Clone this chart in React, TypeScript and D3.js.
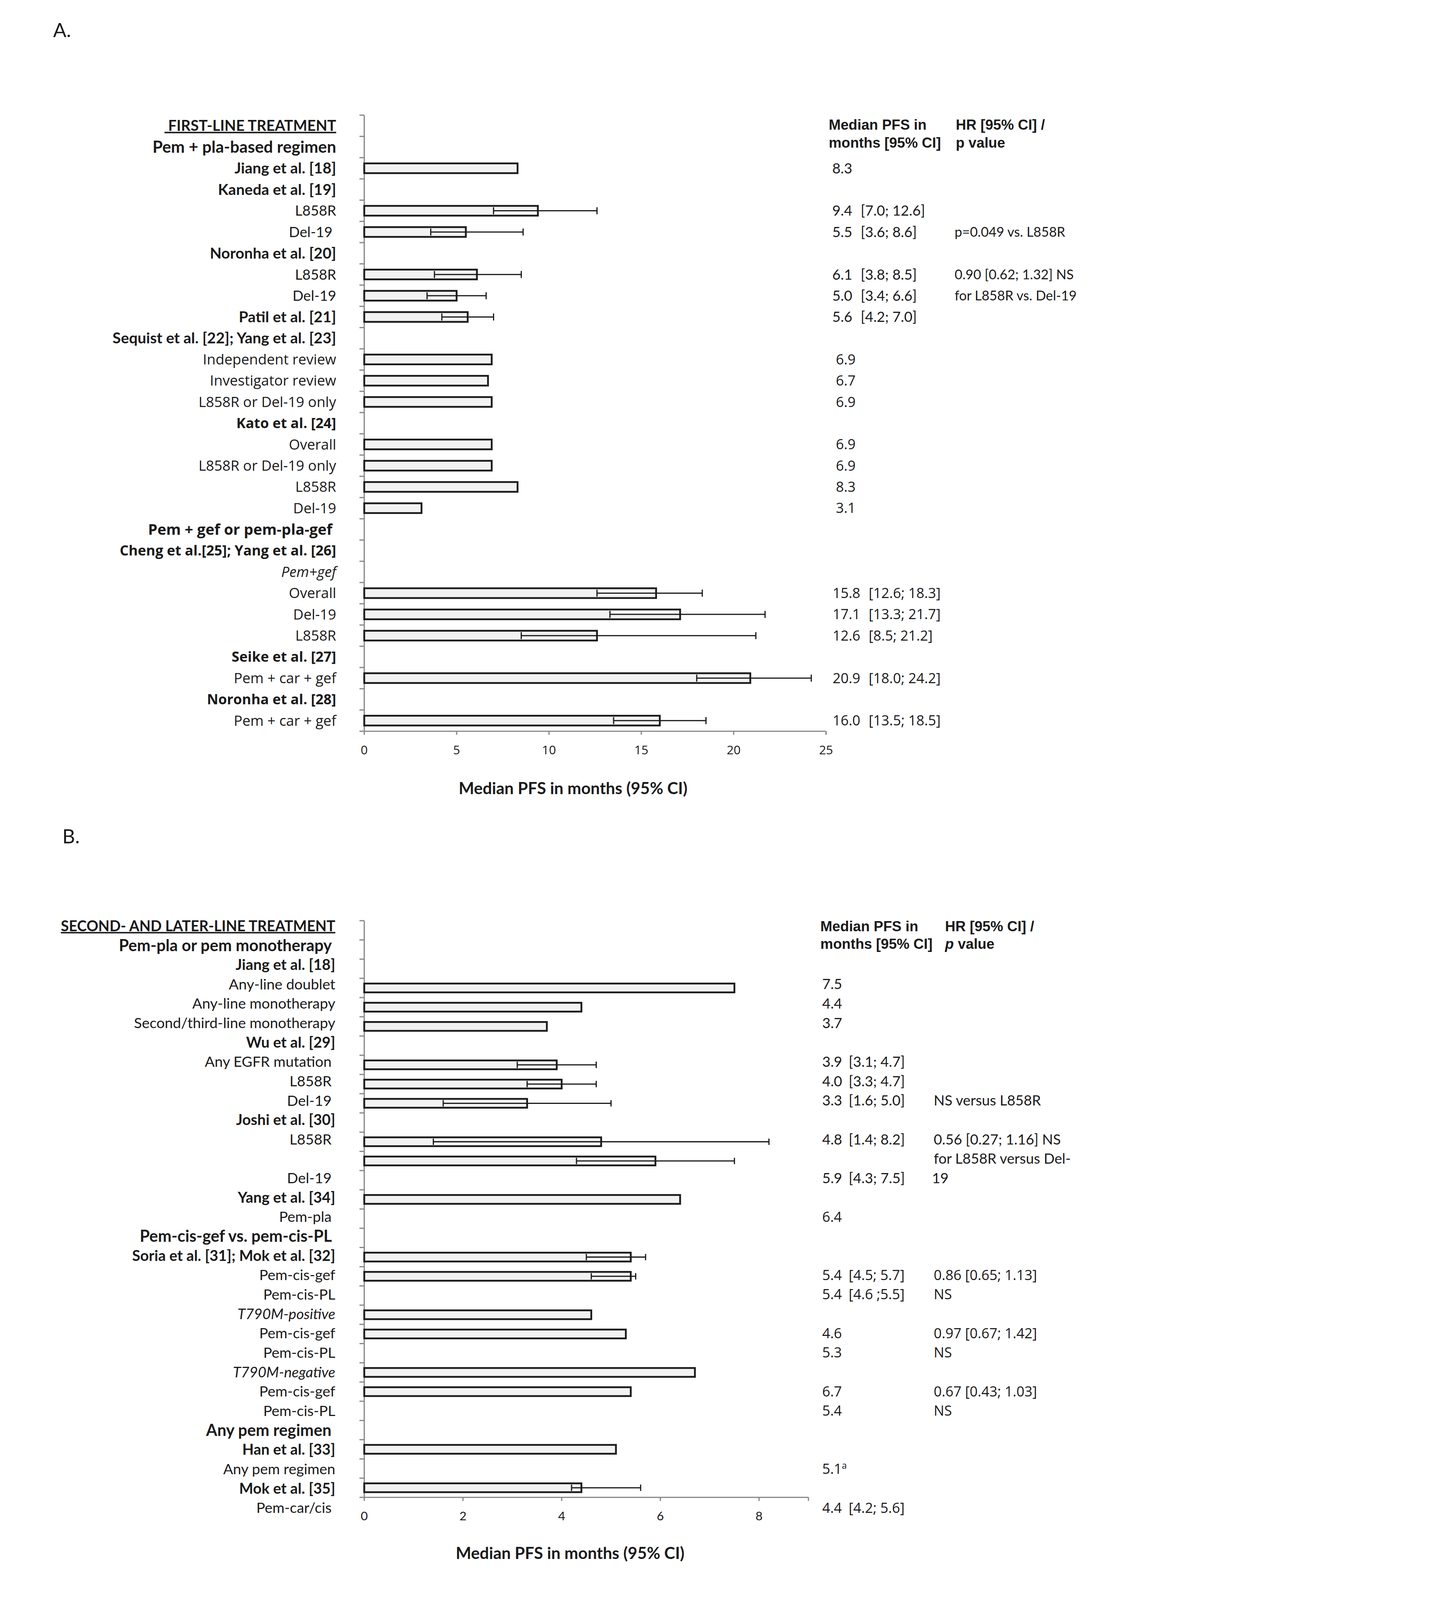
import * as d3 from 'd3';

const W = 3679;
const H = 5363;

type Kind = 'head' | 'group' | 'bold' | 'sub' | 'ital';

// ---- Panel A: first-line treatment ----
const labelsA = [
  '\u00a0FIRST-LINE TREATMENT',
  'Pem + pla-based regimen',
  'Jiang et al. [18]',
  'Kaneda et al. [19]',
  'L858R',
  'Del-19\u00a0',
  'Noronha et al. [20]',
  'L858R',
  'Del-19',
  'Patil et al. [21]',
  'Sequist et al. [22]; Yang et al. [23]',
  'Independent review',
  'Investigator review',
  'L858R or Del-19 only',
  'Kato et al. [24]',
  'Overall',
  'L858R or Del-19 only',
  'L858R',
  'Del-19',
  'Pem + gef or pem-pla-gef\u00a0',
  'Cheng et al.[25]; Yang et al. [26]',
  'Pem+gef',
  'Overall',
  'Del-19',
  'L858R',
  'Seike et al. [27]',
  'Pem + car + gef',
  'Noronha et al. [28]',
  'Pem + car + gef',
];
const kindsA: Kind[] = [
  'head', 'group', 'bold', 'bold', 'sub', 'sub', 'bold', 'sub', 'sub', 'bold',
  'bold', 'sub', 'sub', 'sub', 'bold', 'sub', 'sub', 'sub', 'sub', 'group',
  'bold', 'ital', 'sub', 'sub', 'sub', 'bold', 'sub', 'bold', 'sub',
];
const medianA = [
  null, null, 8.3, null, 9.4, 5.5, null, 6.1, 5.0, 5.6,
  null, 6.9, 6.7, 6.9, null, 6.9, 6.9, 8.3, 3.1, null,
  null, null, 15.8, 17.1, 12.6, null, 20.9, null, 16.0,
];
const loA = [
  null, null, null, null, 7.0, 3.6, null, 3.8, 3.4, 4.2,
  null, null, null, null, null, null, null, null, null, null,
  null, null, 12.6, 13.3, 8.5, null, 18.0, null, 13.5,
];
const hiA = [
  null, null, null, null, 12.6, 8.6, null, 8.5, 6.6, 7.0,
  null, null, null, null, null, null, null, null, null, null,
  null, null, 18.3, 21.7, 21.2, null, 24.2, null, 18.5,
];
const hrA: Record<number, string> = {
  5: 'p=0.049 vs. L858R',
  7: '0.90 [0.62; 1.32] NS',
  8: 'for L858R vs. Del-19',
};
const ticksA = [0, 5, 10, 15, 20, 25];

// ---- Panel B: second- and later-line treatment ----
const labelsB = [
  'SECOND- AND LATER-LINE TREATMENT',
  'Pem-pla or pem monotherapy\u00a0',
  'Jiang et al. [18]',
  'Any-line doublet',
  'Any-line monotherapy',
  'Second/third-line monotherapy',
  'Wu et al. [29]',
  'Any EGFR mutation\u00a0',
  'L858R\u00a0',
  'Del-19\u00a0',
  'Joshi et al. [30]',
  'L858R\u00a0',
  '',
  'Del-19\u00a0',
  'Yang et al. [34]',
  'Pem-pla\u00a0',
  'Pem-cis-gef vs. pem-cis-PL\u00a0',
  'Soria et al. [31]; Mok et al. [32]',
  'Pem-cis-gef',
  'Pem-cis-PL',
  'T790M-positive',
  'Pem-cis-gef',
  'Pem-cis-PL',
  'T790M-negative',
  'Pem-cis-gef',
  'Pem-cis-PL',
  'Any pem regimen\u00a0',
  'Han et al. [33]',
  'Any pem regimen',
  'Mok et al. [35]',
  'Pem-car/cis\u00a0',
];
const kindsB: Kind[] = [
  'head', 'group', 'bold', 'sub', 'sub', 'sub', 'bold', 'sub', 'sub', 'sub',
  'bold', 'sub', 'sub', 'sub', 'bold', 'sub', 'group', 'bold', 'sub', 'sub',
  'ital', 'sub', 'sub', 'ital', 'sub', 'sub', 'group', 'bold', 'sub', 'bold', 'sub',
];
// bar slots on the category axis (30 slots)
const medianB = [
  null, null, null, 7.5, 4.4, 3.7, null, 3.9, 4.0, 3.3,
  null, 4.8, 5.9, null, 6.4, null, null, 5.4, 5.4, null,
  4.6, 5.3, null, 6.7, 5.4, null, null, 5.1, null, 4.4,
];
const loB = [
  null, null, null, null, null, null, null, 3.1, 3.3, 1.6,
  null, 1.4, 4.3, null, null, null, null, 4.5, 4.6, null,
  null, null, null, null, null, null, null, null, null, 4.2,
];
const hiB = [
  null, null, null, null, null, null, null, 4.7, 4.7, 5.0,
  null, 8.2, 7.5, null, null, null, null, 5.7, 5.5, null,
  null, null, null, null, null, null, null, null, null, 5.6,
];
// text table beside panel B (keyed by label row)
const medTextB: Record<number, string> = {
  3: '7.5', 4: '4.4', 5: '3.7', 7: '3.9', 8: '4.0', 9: '3.3', 11: '4.8', 13: '5.9',
  15: '6.4', 18: '5.4', 19: '5.4', 21: '4.6', 22: '5.3', 24: '6.7', 25: '5.4',
  28: '5.1', 30: '4.4',
};
const noteB: Record<number, string> = { 28: 'a' };
const ciTextB: Record<number, string> = {
  7: '[3.1; 4.7]', 8: '[3.3; 4.7]', 9: '[1.6; 5.0]', 11: '[1.4; 8.2]', 13: '[4.3; 7.5]',
  18: '[4.5; 5.7]', 19: '[4.6 ;5.5]', 30: '[4.2; 5.6]',
};
const hrB: Record<number, string> = {
  9: 'NS versus L858R',
  11: '0.56 [0.27; 1.16] NS',
  12: 'for L858R versus Del-',
  13: '19',
  18: '0.86 [0.65; 1.13]',
  19: 'NS',
  21: '0.97 [0.67; 1.42]',
  22: 'NS',
  24: '0.67 [0.43; 1.03]',
  25: 'NS',
};
const ticksB = [0, 2, 4, 6, 8];

const CAL = 'Lato, "Open Sans", sans-serif';
const SEG = '"Open Sans", "Noto Sans", sans-serif';
const ARIAL = '"Liberation Sans", Arial, sans-serif';
const INK = '#1a1a1a';
const GREY = '#878787';

// font sizes per label kind
const sizeCalA: Record<Kind, number> = { head: 50, group: 55, bold: 51, sub: 48, ital: 48 };
const sizeSegA: Record<Kind, number> = { head: 50, group: 50, bold: 47, sub: 48, ital: 48 };
const sizeCalB: Record<Kind, number> = { head: 49, group: 54, bold: 50, sub: 49, ital: 49 };

function RowLabel({ x, y, text, kind, family, size }: any) {
  return (
    <text
      x={x}
      y={y}
      dy="0.35em"
      textAnchor="end"
      fontFamily={family}
      fontSize={size}
      fontWeight={kind === 'sub' || kind === 'ital' ? 400 : 700}
      fontStyle={kind === 'ital' ? 'italic' : 'normal'}
      textDecoration={kind === 'head' ? 'underline' : undefined}
      fill={INK}
      style={{ whiteSpace: 'pre' }}
    >
      {text}
    </text>
  );
}

function Bars({ med, lo, hi, x, y }: any) {
  const bh = y.bandwidth() * 0.46;
  const cap = bh * 0.36;
  return (
    <g>
      {med.map((m: number | null, i: number) => {
        if (m == null) return null;
        const cy = y(i) + y.bandwidth() / 2;
        return (
          <g key={i}>
            <rect
              x={x(0)}
              y={cy - bh / 2}
              width={x(m) - x(0)}
              height={bh}
              fill="#f2f2f2"
              stroke={INK}
              strokeWidth={6}
            />
            {lo[i] != null && (
              <g stroke={INK} strokeWidth={4}>
                <line x1={x(lo[i])} x2={x(hi[i])} y1={cy} y2={cy} />
                <line x1={x(lo[i])} x2={x(lo[i])} y1={cy - cap} y2={cy + cap} />
                <line x1={x(hi[i])} x2={x(hi[i])} y1={cy - cap} y2={cy + cap} />
              </g>
            )}
          </g>
        );
      })}
    </g>
  );
}

function Axes({ x, y, ticks, labelY, family, size }: any) {
  const [top, bottom] = y.range();
  const n = y.domain().length;
  const step = (bottom - top) / n;
  const [x0, x1] = x.range();
  return (
    <g>
      <line x1={x0} x2={x0} y1={top} y2={bottom} stroke={GREY} strokeWidth={4} />
      {d3.range(n + 1).map((i) => (
        <line key={i} x1={x0 - 16} x2={x0} y1={top + i * step} y2={top + i * step} stroke={GREY} strokeWidth={4} />
      ))}
      <line x1={x0} x2={x1} y1={bottom} y2={bottom} stroke={GREY} strokeWidth={4} />
      {[...ticks, x.domain()[1]].map((t: number, i: number) => (
        <line key={i} x1={x(t)} x2={x(t)} y1={bottom} y2={bottom + 12} stroke={GREY} strokeWidth={4} />
      ))}
      {ticks.map((t: number) => (
        <text key={t} x={x(t)} y={labelY} dy="0.35em" textAnchor="middle" fontFamily={family} fontSize={size} fill={INK}>
          {t}
        </text>
      ))}
    </g>
  );
}

export default function App() {
  const xA = d3.scaleLinear().domain([0, 25]).range([1221, 2769]);
  const yA = d3.scaleBand<number>().domain(d3.range(labelsA.length)).range([386, 2451]);
  const xB = d3.scaleLinear().domain([0, 9]).range([1221, 2710]);
  const yB = d3.scaleBand<number>().domain(d3.range(medianB.length)).range([3086, 5019]);
  const lyB = d3.scalePoint<number>().domain(d3.range(labelsB.length)).range([3104, 5054]);
  const rowA = (i: number) => (yA(i) as number) + yA.bandwidth() / 2;
  const fontA = (i: number) => (i < 11 ? CAL : SEG);
  const fontB = (i: number) => (i <= 13 ? CAL : SEG);
  const valSize = (font: string) => (font === CAL ? 48 : 47);

  return (
    <svg
      viewBox={`0 0 ${W} ${H}`}
      preserveAspectRatio="xMinYMin meet"
      style={{
        position: 'fixed', left: 0, top: 0, width: '100vw', height: '100vh',
        display: 'block', background: '#fff',
      }}
    >
      <rect width={W} height={H} fill="#fff" />

      {/* ---------- A ---------- */}
      <text x={178} y={101} dy="0.35em" fontFamily={CAL} fontSize={66} fill={INK}>A.</text>

      {labelsA.map((l, i) => (
        <RowLabel key={i} x={1127} y={rowA(i)} text={l} kind={kindsA[i]}
          family={fontA(i)} size={(i < 11 ? sizeCalA : sizeSegA)[kindsA[i]]} />
      ))}

      <Axes x={xA} y={yA} ticks={ticksA} labelY={2514} family={SEG} size={41} />
      <Bars med={medianA} lo={loA} hi={hiA} x={xA} y={yA} />

      <g fontFamily={ARIAL} fontWeight={700} fontSize={48} fill={INK}>
        <text x={2778} y={418} dy="0.35em">Median PFS in</text>
        <text x={2778} y={478} dy="0.35em">months [95% CI]</text>
        <text x={3204} y={418} dy="0.35em">HR [95% CI] /</text>
        <text x={3204} y={478} dy="0.35em">p value</text>
      </g>

      {medianA.map((m, i) =>
        m == null ? null : (
          <g key={i} fontFamily={fontA(i)} fontSize={valSize(fontA(i))} fill={INK}>
            <text x={i < 11 ? 2790 : (m < 10 ? 2802 : 2791)} y={rowA(i)} dy="0.35em">{m.toFixed(1)}</text>
            {loA[i] != null && (
              <text x={i < 11 ? 2885 : 2912} y={rowA(i)} dy="0.35em">
                {`[${(loA[i] as number).toFixed(1)}; ${(hiA[i] as number).toFixed(1)}]`}
              </text>
            )}
          </g>
        )
      )}
      {Object.entries(hrA).map(([k, t]) => (
        <text key={k} x={3200} y={rowA(+k)} dy="0.35em" fontFamily={CAL} fontSize={45} fill={INK}>{t}</text>
      ))}

      <text x={1921} y={2643} dy="0.35em" textAnchor="middle" fontFamily={CAL} fontWeight={700} fontSize={55} fill={INK}>
        Median PFS in months (95% CI)
      </text>

      {/* ---------- B ---------- */}
      <text x={209} y={2804} dy="0.35em" fontFamily={CAL} fontSize={66} fill={INK}>B.</text>

      {labelsB.map((l, i) => (
        <RowLabel key={i} x={1124} y={lyB(i)} text={l} kind={kindsB[i]} family={CAL}
          size={sizeCalB[kindsB[i]]} />
      ))}

      <Axes x={xB} y={yB} ticks={ticksB} labelY={5082} family={CAL} size={41} />
      <Bars med={medianB} lo={loB} hi={hiB} x={xB} y={yB} />

      <g fontFamily={ARIAL} fontWeight={700} fontSize={48} fill={INK}>
        <text x={2750} y={3105} dy="0.35em">Median PFS in</text>
        <text x={2750} y={3163} dy="0.35em">months [95% CI]</text>
        <text x={3168} y={3105} dy="0.35em">HR [95% CI] /</text>
        <text x={3168} y={3163} dy="0.35em">
          <tspan fontStyle="italic">p</tspan> value
        </text>
      </g>

      {Object.entries(medTextB).map(([k, t]) => (
        <text key={k} x={2756} y={lyB(+k)} dy="0.35em" fontFamily={fontB(+k)} fontSize={valSize(fontB(+k))} fill={INK}>
          {t}
          {noteB[+k] && (
            <tspan fontSize={30} dy="-0.6em">{noteB[+k]}</tspan>
          )}
        </text>
      ))}
      {Object.entries(ciTextB).map(([k, t]) => (
        <text key={k} x={2845} y={lyB(+k)} dy="0.35em" fontFamily={fontB(+k)} fontSize={valSize(fontB(+k))} fill={INK}>{t}</text>
      ))}
      {Object.entries(hrB).map(([k, t]) => (
        <text key={k} x={+k === 13 ? 3124 : 3130} y={lyB(+k)} dy="0.35em" fontFamily={fontB(+k)} fontSize={valSize(fontB(+k))} fill={INK}>{t}</text>
      ))}

      <text x={1911} y={5206} dy="0.35em" textAnchor="middle" fontFamily={CAL} fontWeight={700} fontSize={55} fill={INK}>
        Median PFS in months (95% CI)
      </text>
    </svg>
  );
}
